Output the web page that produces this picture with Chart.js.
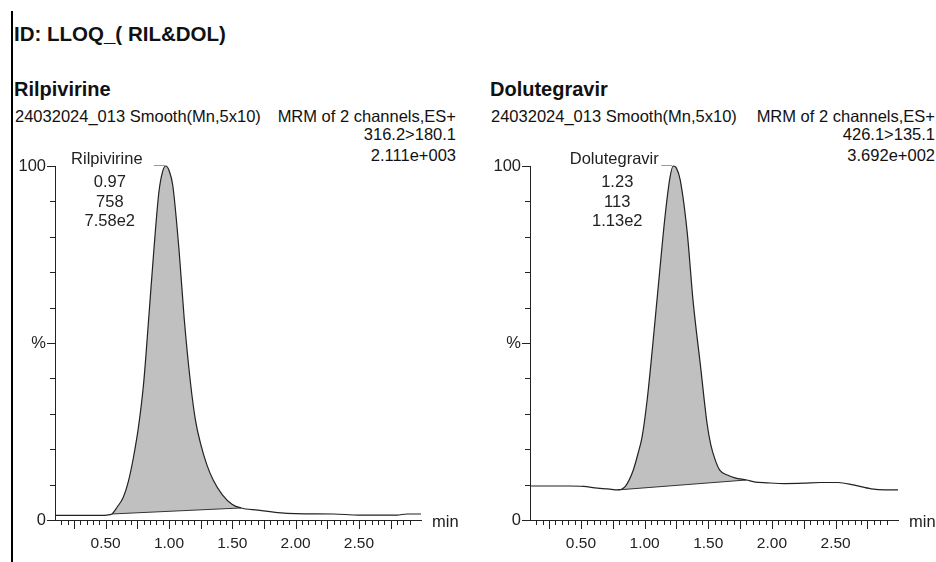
<!DOCTYPE html>
<html>
<head>
<meta charset="utf-8">
<script src="https://cdn.jsdelivr.net/npm/chart.js@4.4.0/dist/chart.umd.min.js"></script>
<style>
  body { margin: 0; width: 936px; height: 562px; background: #fff; position: relative; overflow: hidden;
         font-family: "Liberation Sans", Arial, sans-serif; color: #111; }
  .t { position: absolute; white-space: nowrap; line-height: 1; transform: translateY(-50%); font-size: 16.5px; }
  .b { font-weight: bold; }
  .box { position: absolute; top: 0; width: 468px; height: 562px; }
  #edge { position: absolute; left: 11px; top: 11px; width: 2px; height: 551px; background: #000; }
</style>
</head>
<body>
<div id="edge"></div>
<div class="t b" style="left:14px;top:34px;font-size:20.5px">ID: LLOQ_( RIL&amp;DOL)</div>

<div class="t b" style="left:14px;top:89px;font-size:20px">Rilpivirine</div>
<div class="t" style="left:15px;top:116px">24032024_013 Smooth(Mn,5x10)</div>
<div class="t" style="right:480px;top:116px">MRM of 2 channels,ES+</div>
<div class="t" style="right:480px;top:134px">316.2&gt;180.1</div>
<div class="t" style="right:480px;top:155px">2.111e+003</div>

<div class="t b" style="left:490px;top:89px;font-size:20px">Dolutegravir</div>
<div class="t" style="left:491px;top:116px">24032024_013 Smooth(Mn,5x10)</div>
<div class="t" style="right:1px;top:116px">MRM of 2 channels,ES+</div>
<div class="t" style="right:1px;top:134px">426.1&gt;135.1</div>
<div class="t" style="right:1px;top:155px">3.692e+002</div>

<div class="box" style="left:0"><canvas id="ril" width="468" height="562"></canvas></div>
<div class="box" style="left:468px"><canvas id="dol" width="468" height="562"></canvas></div>

<script>
// time axis (min) and relative intensity (%)
const xMin = 0.1, xMax = 2.99;

const rilTime   = [0.10, 0.20, 0.30, 0.40, 0.47, 0.51, 0.55, 0.59, 0.64, 0.68, 0.72, 0.76, 0.80, 0.84, 0.88, 0.92, 0.95, 0.975,
                   1.00, 1.03, 1.08, 1.12, 1.17, 1.21, 1.25, 1.30, 1.35, 1.42, 1.50, 1.57, 1.70, 1.86, 2.00, 2.30, 2.50, 2.80, 2.88, 2.99];
const rilSignal = [1.3, 1.3, 1.3, 1.3, 1.3, 1.4, 1.7, 3.6, 6.5, 11.0, 17.8, 26.5, 38.7, 57.0, 76.0, 92.5, 98.5, 100,
                   98.8, 94.5, 76.0, 57.0, 38.7, 28.0, 21.5, 15.5, 11.2, 7.2, 4.4, 3.4, 2.8, 2.1, 1.8, 1.7, 1.4, 1.4, 1.7, 1.7];
const rilBaseTime   = [0.55, 1.57];
const rilBaseSignal = [1.7, 3.4];
const rilPeak = ['Rilpivirine', '0.97', '758', '7.58e2'];

const dolTime   = [0.10, 0.25, 0.41, 0.52, 0.63, 0.71, 0.79, 0.85, 0.91, 0.95, 0.98, 1.02, 1.06, 1.11, 1.16, 1.20, 1.225,
                   1.25, 1.28, 1.335, 1.38, 1.44, 1.49, 1.52, 1.555, 1.59, 1.65, 1.71, 1.80, 1.87, 1.96, 2.10, 2.25, 2.38,
                   2.52, 2.64, 2.78, 2.89, 2.99];
const dolSignal = [9.6, 9.6, 9.6, 9.5, 9.0, 8.8, 8.5, 9.6, 14.0, 19.0, 23.4, 33.9, 48.0, 67.0, 85.6, 96.9, 100,
                   99.4, 96.0, 81.1, 62.1, 43.2, 27.4, 21.2, 16.9, 14.1, 12.7, 11.9, 11.3, 10.7, 10.5, 10.3, 10.4, 10.6,
                   10.6, 9.9, 8.8, 8.5, 8.5];
const dolBaseTime   = [0.79, 1.80];
const dolBaseSignal = [8.5, 11.3];
const dolPeak = ['Dolutegravir', '1.23', '113', '1.13e2'];

Chart.defaults.font.family = '"Liberation Sans", Arial, sans-serif';
Chart.defaults.color = '#222';

const pts = (xs, ys) => xs.map((x, i) => ({ x: x, y: ys[i] }));

const marks = {
  id: 'marks',
  afterDraw(chart, args, opts) {
    const { ctx, chartArea: a, scales: { x, y } } = chart;
    ctx.save();
    ctx.strokeStyle = '#222';
    ctx.lineWidth = 1;
    ctx.beginPath();
    x.ticks.forEach(t => {
      if (t.value <= x.min + 1e-6 || t.value >= x.max - 1e-6) return;
      const px = Math.round(x.getPixelForValue(t.value)) + 0.5;
      const big = Math.abs(t.value * 4 - Math.round(t.value * 4)) < 1e-6;
      ctx.moveTo(px, a.bottom);
      ctx.lineTo(px, a.bottom + (big ? 9 : 5));
    });
    y.ticks.forEach(t => {
      const py = Math.round(y.getPixelForValue(t.value)) + 0.5;
      const big = t.value % 50 === 0;
      ctx.moveTo(a.left, py);
      ctx.lineTo(a.left - (big ? 8 : 5), py);
    });
    ctx.stroke();

    ctx.fillStyle = '#222';
    ctx.font = '16.5px "Liberation Sans", Arial, sans-serif';
    ctx.textBaseline = 'middle';
    ctx.fillText('min', x.right + 11, a.bottom + 2);

    // peak annotation
    const data = chart.data.datasets[0].data;
    let top = data[0];
    data.forEach(p => { if (p.y > top.y) top = p; });
    const px = x.getPixelForValue(top.x), py = y.getPixelForValue(top.y);
    ctx.strokeStyle = '#999';
    ctx.beginPath();
    ctx.moveTo(px - 12, Math.round(py) - 0.5);
    ctx.lineTo(px - 1, Math.round(py) - 0.5);
    ctx.stroke();
    ctx.textAlign = 'center';
    const lx = px - 56;
    ctx.fillText(opts.label[0], lx - 3, py - 7);
    ctx.fillText(opts.label[1], lx, py + 16);
    ctx.fillText(opts.label[2], lx, py + 36);
    ctx.fillText(opts.label[3], lx, py + 55);
    ctx.restore();
  }
};

function makeChart(id, time, signal, baseTime, baseSignal, peak, yWidth, padRight) {
  const trace = pts(time, signal);
  const area = trace.filter(p => p.x >= baseTime[0] - 1e-9 && p.x <= baseTime[1] + 1e-9);
  new Chart(document.getElementById(id), {
    type: 'line',
    data: {
      datasets: [
        { data: trace, borderColor: '#222', borderWidth: 1.2, pointRadius: 0, fill: false,
          cubicInterpolationMode: 'monotone', clip: 4 },
        { data: pts(baseTime, baseSignal), borderColor: '#333', borderWidth: 1, pointRadius: 0, fill: false, tension: 0 },
        { data: area, borderWidth: 0, pointRadius: 0, backgroundColor: '#c0c0c0', fill: '-1',
          cubicInterpolationMode: 'monotone', clip: 4 }
      ]
    },
    options: {
      responsive: false,
      animation: false,
      events: [],
      layout: { padding: { left: 0, right: padRight, top: 166, bottom: 0 } },
      plugins: { legend: { display: false }, tooltip: { enabled: false }, marks: { label: peak } },
      scales: {
        x: {
          type: 'linear', min: xMin, max: xMax,
          afterFit: s => { s.height = 42; },
          border: { color: '#222', width: 1 },
          grid: { drawOnChartArea: false, tickLength: 10, tickColor: 'transparent' },
          ticks: {
            stepSize: 0.05, autoSkip: false, maxRotation: 0, padding: 4, font: { size: 15.5 },
            callback: v => Math.abs(v * 2 - Math.round(v * 2)) < 1e-6 ? v.toFixed(2) : ''
          }
        },
        y: {
          min: 0, max: 100,
          afterFit: s => { s.width = yWidth; },
          border: { color: '#222', width: 1 },
          grid: { drawOnChartArea: false, tickLength: 8, tickColor: 'transparent' },
          ticks: {
            stepSize: 10, autoSkip: false, padding: 1, font: { size: 16.5 },
            callback: v => v === 100 ? '100' : v === 50 ? '%' : v === 0 ? '0' : ''
          }
        }
      }
    },
    plugins: [marks]
  });
}

makeChart('ril', rilTime, rilSignal, rilBaseTime, rilBaseSignal, rilPeak, 55, 47);
makeChart('dol', dolTime, dolSignal, dolBaseTime, dolBaseSignal, dolPeak, 62, 38);
</script>
</body>
</html>
